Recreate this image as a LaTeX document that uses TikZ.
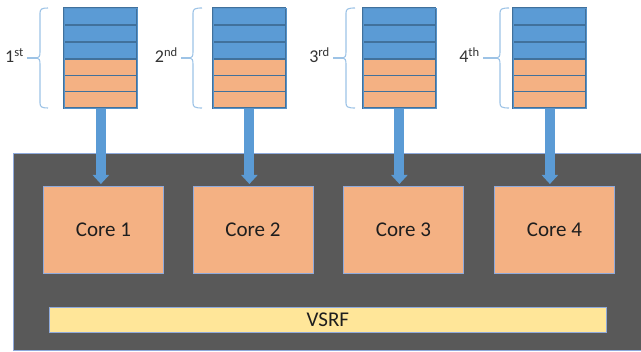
\documentclass[tikz,border=0pt]{standalone}
\usepackage{fontspec}
\setmainfont{Carlito}
\usetikzlibrary{arrows.meta,calc}
\definecolor{cellblue}{HTML}{5B9BD5}
\definecolor{cellline}{HTML}{41719C}
\definecolor{cellorange}{HTML}{F4B183}
\definecolor{chipgray}{HTML}{595959}
\definecolor{chipedge}{HTML}{8FAADC}
\definecolor{regyellow}{HTML}{FFE699}
\definecolor{bracecol}{HTML}{9DC3E6}
\definecolor{txtdark}{HTML}{1E1E1E}
\definecolor{txtlabel}{HTML}{333333}

\begin{document}
\begin{tikzpicture}[x=1pt,y=-1pt,
  cellstyle/.style={line width=1.2pt, draw=cellline},
  stackframe/.style={draw=cellblue!80!cellline, line width=0.8pt, minimum width=73pt,
    minimum height=100pt, inner sep=0pt, anchor=north west},
  corebox/.style={draw=chipedge, line width=0.8pt, fill=cellorange,
    minimum width=120pt, minimum height=87pt, inner sep=0pt, anchor=north west,
    text=txtdark, font=\fontsize{21}{24}\selectfont},
  regbox/.style={draw=chipedge, line width=0.8pt, fill=regyellow,
    minimum width=557pt, minimum height=25pt, inner sep=0pt, anchor=north west,
    text=txtdark, font=\fontsize{21}{24}\selectfont},
  bracestyle/.style={draw=bracecol, line width=1.1pt},
  orderlabel/.style={text=txtlabel, inner sep=0pt, anchor=base east,
    font=\fontsize{18}{20}\selectfont},
  flow/.style={draw=cellblue, line width=10pt,
    -{Triangle[width=16pt,length=9pt]}}
]
\useasboundingbox (0,0) rectangle (641,352);

% chip body
\fill[chipgray] (13,153) rectangle (641,350);
\draw[chipedge, line width=0.8pt] (641,153) -- (13,153) -- (13,350) -- (641,350);

% cores and shared register file
\node[corebox] (c1) at (43,186) {Core 1};
\node[corebox] (c2) at (192.5,186) {Core 2};
\node[corebox] (c3) at (343,186) {Core 3};
\node[corebox] (c4) at (494,186) {Core 4};
\node[regbox] (rf) at (49,307) {VSRF};

% instruction stacks: three blue cells over three orange cells
\foreach \k/\sx in {1/64, 2/212.5, 3/362.5, 4/513} {
  \foreach \ya/\yb in {8/25, 25/42, 42/59}
    \filldraw[cellstyle, fill=cellblue] (\sx,\ya) rectangle (\sx+73,\yb);
  \foreach \ya/\yb in {59/75.3, 75.3/91.7, 91.7/108}
    \filldraw[cellstyle, fill=cellorange] (\sx,\ya) rectangle (\sx+73,\yb);
  \node[stackframe] (s\k) at (\sx,8) {};
}

% braces with their order labels
\foreach \k/\bx/\hx/\lx/\txt in {1/40/48/24/{1\textsuperscript{st}},
                                 2/193/202/178/{2\textsuperscript{nd}},
                                 3/346/355/330/{3\textsuperscript{rd}},
                                 4/500/509/480/{4\textsuperscript{th}}} {
  \coordinate (t\k) at (\bx-3,58);
  \draw[bracestyle] (\hx,8) .. controls (\bx+2,8) and (\bx,9) .. (\bx,13)
    -- (\bx,52) .. controls (\bx,56) and (\bx-1,58) .. (t\k)
    .. controls (\bx-1,58) and (\bx,60) .. (\bx,64)
    -- (\bx,103) .. controls (\bx,107) and (\bx+2,108) .. (\hx,108);
  \node[orderlabel] (l\k) at (\lx,63) {\txt};
  \draw[bracestyle] ($(l\k.east |- t\k)+(3,0)$) -- (t\k);
}

% issue arrows from each stack into its core
\foreach \k in {1,2,3,4}
  \draw[flow] (s\k.south) -- ($(s\k.south |- c\k.north)+(0,-2)$);
\end{tikzpicture}
\end{document}
